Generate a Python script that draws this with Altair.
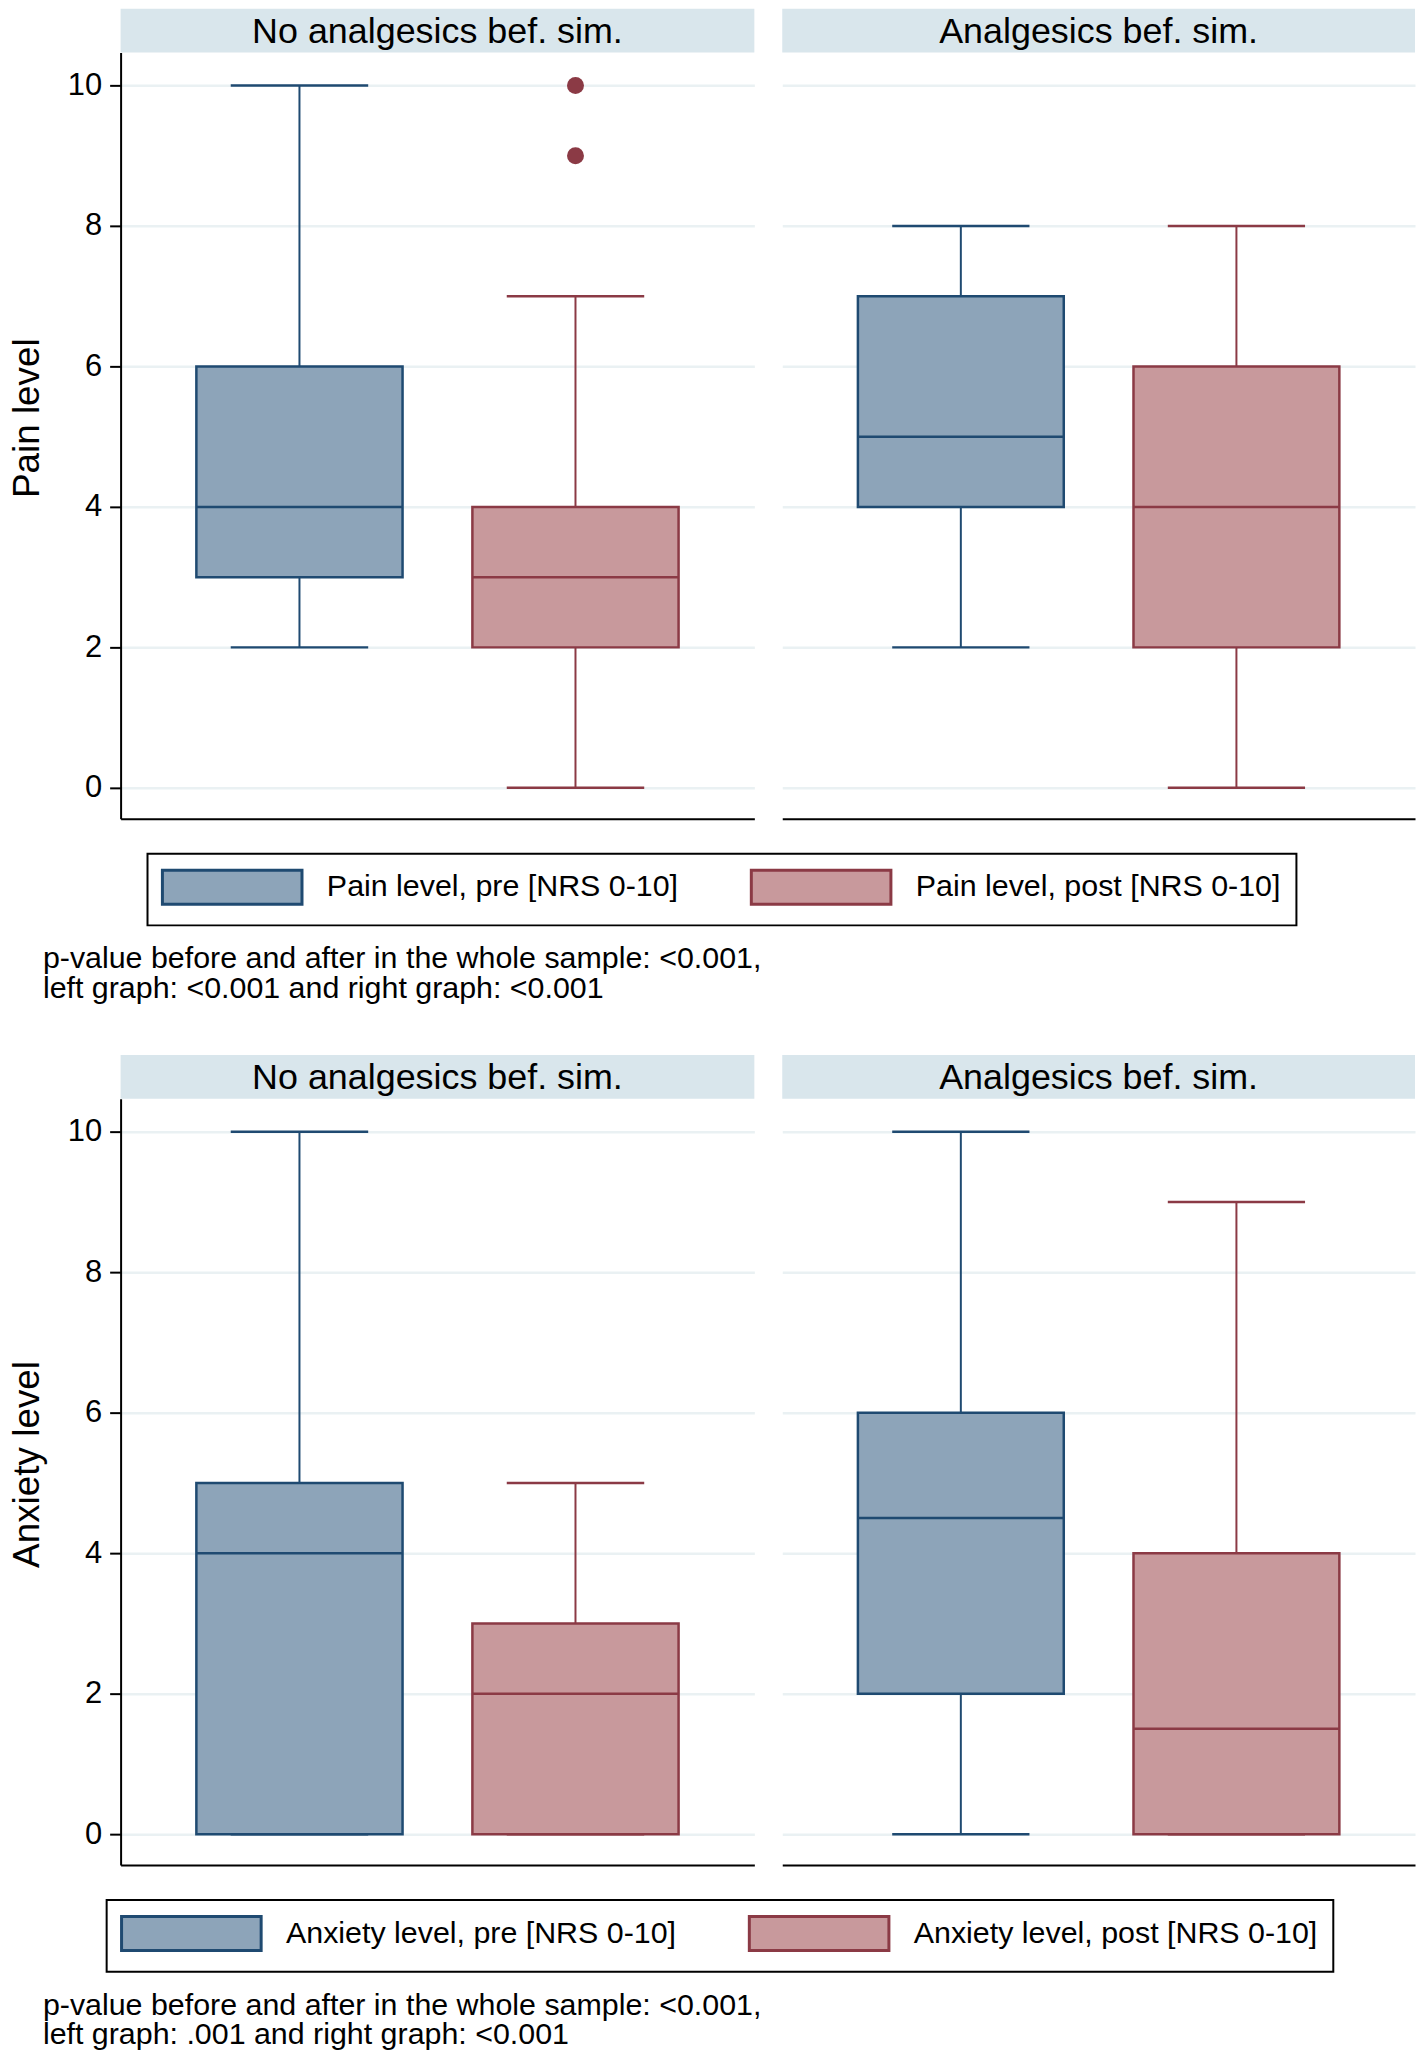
import altair as alt
import pandas as pd

FONT = "Liberation Sans"

groups = ["No analgesics bef. sim.", "Analgesics bef. sim."]

# ---- Pain level (top figure) ----
pain_series = ["Pain level, pre [NRS 0-10]", "Pain level, post [NRS 0-10]"]
pain_group = [groups[0], groups[0], groups[1], groups[1]]
pain_kind = [pain_series[0], pain_series[1], pain_series[0], pain_series[1]]
pain_lo = [2, 0, 2, 0]
pain_q1 = [3, 2, 4, 2]
pain_med = [4, 3, 5, 4]
pain_q3 = [6, 4, 7, 6]
pain_hi = [10, 7, 8, 8]
pain_out_group = [groups[0], groups[0]]
pain_out_kind = [pain_series[1], pain_series[1]]
pain_out_value = [9, 10]
pain_note = ["p-value before and after in the whole sample: <0.001,",
             "left graph: <0.001 and right graph: <0.001"]

# ---- Anxiety level (bottom figure) ----
anx_series = ["Anxiety level, pre [NRS 0-10]", "Anxiety level, post [NRS 0-10]"]
anx_group = [groups[0], groups[0], groups[1], groups[1]]
anx_kind = [anx_series[0], anx_series[1], anx_series[0], anx_series[1]]
anx_lo = [0, 0, 0, 0]
anx_q1 = [0, 0, 2, 0]
anx_med = [4, 2, 4.5, 1.5]
anx_q3 = [5, 3, 6, 4]
anx_hi = [10, 5, 10, 9]
anx_out_group = []
anx_out_kind = []
anx_out_value = []
anx_note = ["p-value before and after in the whole sample: <0.001,",
            "left graph: .001 and right graph: <0.001"]

y_ticks = [0, 2, 4, 6, 8, 10]

FILL = ["#8DA4B9", "#C8999C"]
STROKE = ["#1F4A71", "#8B3A45"]
STRIP = "#D9E6EC"
GRID = "#EAF1F3"

PANEL_W = [636, 635]
PANEL_H = 769
STRIP_H = 44
P_IN, P_OUT = 0.253, 0.2745


def box_frame(group, kind, lo, q1, med, q3, hi):
    return pd.DataFrame({"group": group, "series": kind, "lo": lo, "q1": q1,
                         "med": med, "q3": q3, "hi": hi})


def panel(df, out_df, series, group, width, ytitle, first, legend_x):
    d = df[df["group"] == group]
    o = out_df[out_df["group"] == group]
    step = width / (2 - P_IN + 2 * P_OUT)
    bw = step * (1 - P_IN)
    xs = alt.Scale(domain=series, paddingInner=P_IN, paddingOuter=P_OUT)
    x_axis = alt.Axis(title=None, labels=False, ticks=False, domain=True,
                      domainColor="black", domainWidth=2, grid=False)
    X = alt.X("series:N", scale=xs, axis=x_axis)
    ys = alt.Scale(domain=[-0.44, 10.47], nice=False, zero=False)
    if first:
        y_axis = alt.Axis(values=y_ticks, title=ytitle, titleFontSize=37,
                          titleFont=FONT, titleFontWeight="normal", titleColor="black",
                          titlePadding=21, titleY=PANEL_H / 2 - 18,
                          labelFontSize=31, labelFont=FONT,
                          labelColor="black", labelPadding=8, tickSize=11,
                          tickWidth=2, tickColor="black", domainColor="black",
                          domainWidth=2, grid=True, gridColor=GRID, gridWidth=2.5,
                          labelOverlap=False)
    else:
        y_axis = alt.Axis(values=y_ticks, title=None, labels=False, ticks=False,
                          domain=False, grid=True, gridColor=GRID, gridWidth=2.5)
    # whiskers / medians use a colour scale listed in reverse order (no legend)
    col = alt.Color("series:N",
                    scale=alt.Scale(domain=series[::-1], range=STROKE[::-1]),
                    legend=None)
    legend = alt.Legend(title=None, orient="none", legendX=legend_x, legendY=804,
                        direction="horizontal", columns=2, columnPadding=66,
                        symbolType="M-4.12,-1H4.12V1H-4.12Z", symbolSize=1156,
                        symbolStrokeWidth=3, symbolOffset=51.5, labelOffset=76.5,
                        labelFontSize=30.5, labelFont=FONT, labelColor="black",
                        labelLimit=1000, padding=15, strokeColor="black")
    base = alt.Chart(d)
    lower = base.mark_rule(strokeWidth=2).encode(
        x=X, y=alt.Y("lo:Q", scale=ys, axis=y_axis), y2="q1:Q", color=col)
    upper = base.mark_rule(strokeWidth=2).encode(
        x=X, y=alt.Y("q3:Q", scale=ys, axis=y_axis), y2="hi:Q", color=col)
    cap_lo = base.mark_tick(thickness=2.5, size=bw * 2 / 3, opacity=1).encode(
        x=X, y=alt.Y("lo:Q", scale=ys, axis=y_axis), color=col)
    cap_hi = base.mark_tick(thickness=2.5, size=bw * 2 / 3, opacity=1).encode(
        x=X, y=alt.Y("hi:Q", scale=ys, axis=y_axis), color=col)
    box = base.mark_bar(strokeWidth=2.5, opacity=1).encode(
        x=X, y=alt.Y("q1:Q", scale=ys, axis=y_axis), y2="q3:Q",
        fill=alt.Fill("series:N", scale=alt.Scale(domain=series, range=FILL), legend=legend),
        stroke=alt.Stroke("series:N", scale=alt.Scale(domain=series, range=STROKE), legend=legend))
    med = base.mark_tick(thickness=2.5, size=bw, opacity=1).encode(
        x=X, y=alt.Y("med:Q", scale=ys, axis=y_axis), color=col)
    strip_df = pd.DataFrame({"t": [group]})
    strip = alt.Chart(strip_df).mark_rect(color=STRIP).encode(
        x=alt.value(0), x2=alt.value(width), y=alt.value(-STRIP_H), y2=alt.value(0))
    strip_txt = alt.Chart(strip_df).mark_text(
        fontSize=36, font=FONT, color="black", baseline="middle", align="center").encode(
        x=alt.value(width / 2), y=alt.value(-STRIP_H / 2 + 1), text="t:N")
    layers = [strip, strip_txt, lower, upper, cap_lo, cap_hi, box, med]
    if len(o):
        outl = alt.Chart(o).mark_circle(size=290, opacity=1, color=STROKE[1]).encode(
            x=X, y=alt.Y("value:Q", scale=ys, axis=y_axis))
        layers.append(outl)
    return alt.layer(*layers).properties(width=width, height=PANEL_H)


def block(df, out_df, series, ytitle, note, legend_x):
    left = panel(df, out_df, series, groups[0], PANEL_W[0], ytitle, True, legend_x)
    right = panel(df, out_df, series, groups[1], PANEL_W[1], ytitle, False, legend_x)
    return alt.hconcat(left, right, spacing=26).resolve_scale(
        x="independent", y="independent").properties(
        title=alt.TitleParams(text=note, orient="bottom", anchor="start", fontSize=30.5,
                              font=FONT, fontWeight="normal", color="black", dx=35,
                              offset=18, lineHeight=30))


pain_df = box_frame(pain_group, pain_kind, pain_lo, pain_q1, pain_med, pain_q3, pain_hi)
pain_out = pd.DataFrame({"group": pain_out_group, "series": pain_out_kind, "value": pain_out_value})
anx_df = box_frame(anx_group, anx_kind, anx_lo, anx_q1, anx_med, anx_q3, anx_hi)
anx_out = pd.DataFrame({"group": anx_out_group, "series": anx_out_kind, "value": anx_out_value})

top = block(pain_df, pain_out, pain_series, "Pain level", pain_note, 27)
bottom = block(anx_df, anx_out, anx_series, "Anxiety level", anx_note, -14)

chart = alt.vconcat(top, bottom, spacing=49).resolve_scale(
    fill="independent", stroke="independent", color="independent"
).properties(padding={"top": -4, "left": 0, "right": 0, "bottom": 0},
             background="white").configure(font=FONT).configure_view(
    stroke="transparent").configure_legend(strokeWidth=2)

chart.save("out.html", embed_options={"renderer": "svg", "actions": False})
